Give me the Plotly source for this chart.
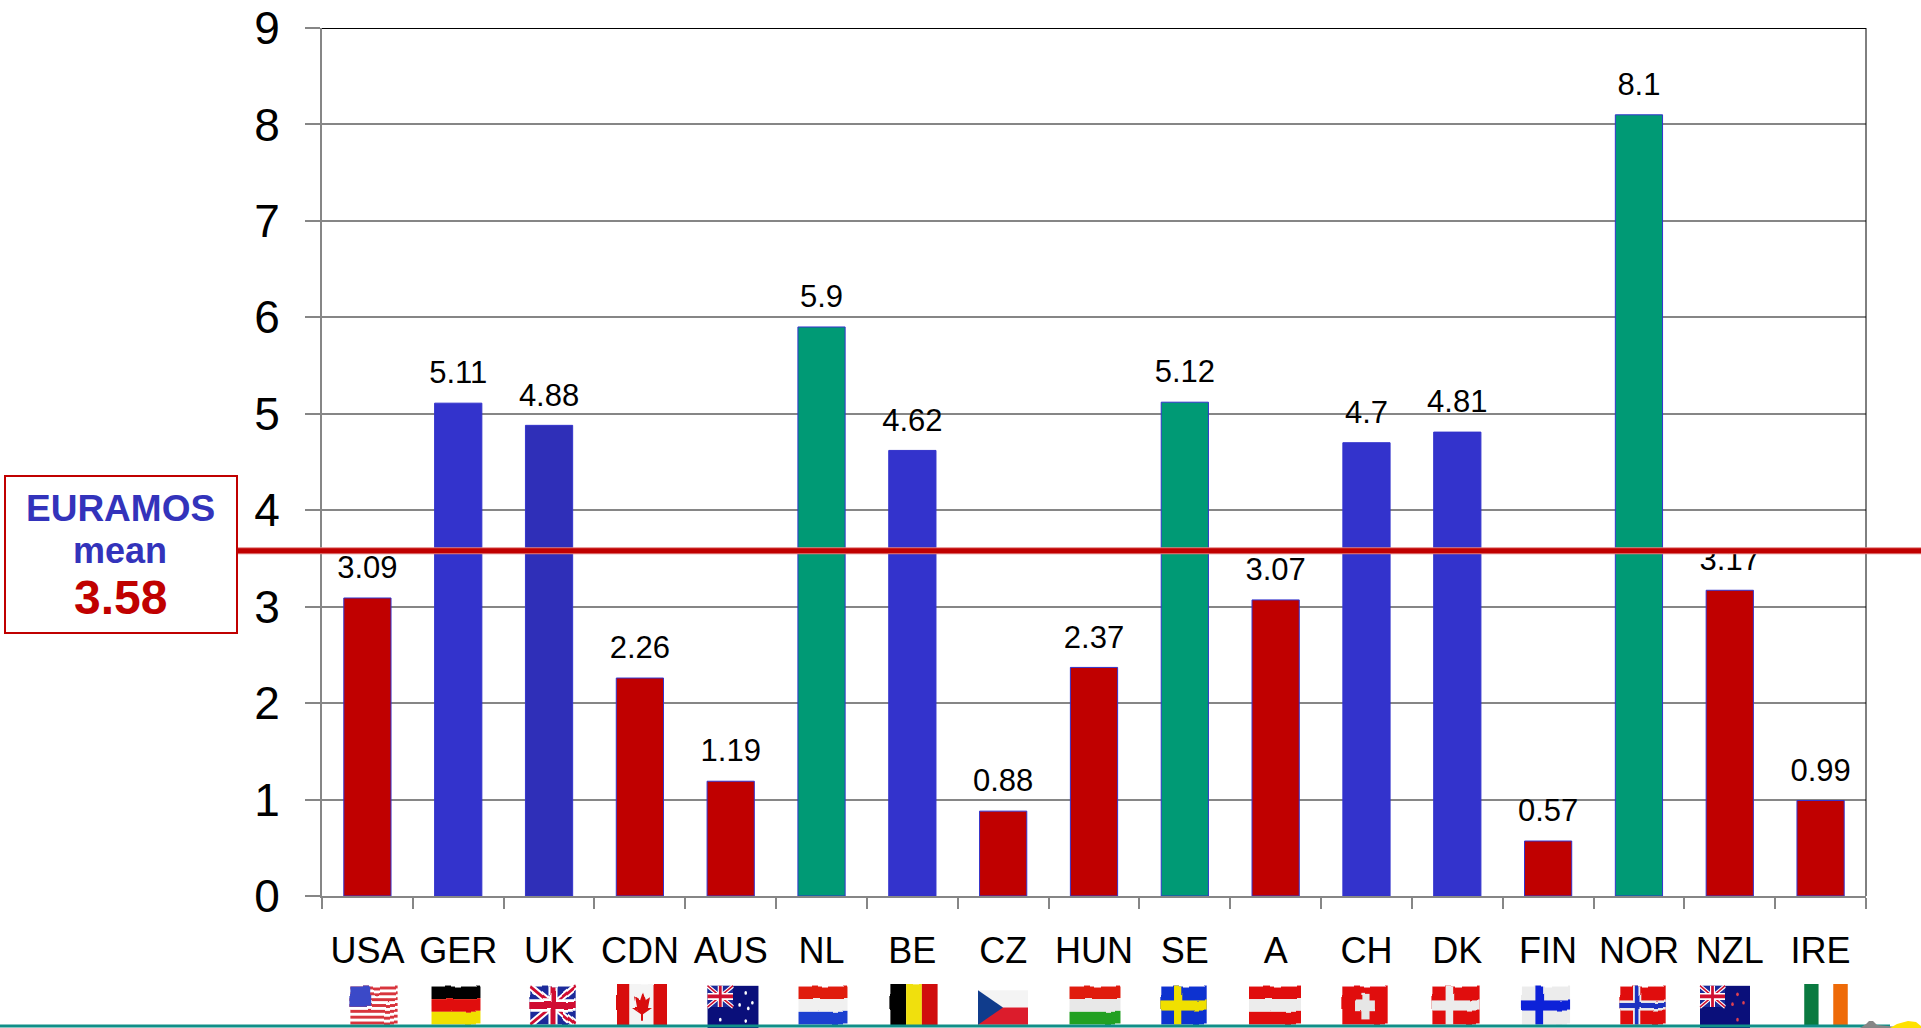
import base64
import plotly.graph_objects as go

countries = ["USA","GER","UK","CDN","AUS","NL","BE","CZ","HUN","SE","A","CH","DK","FIN","NOR","NZL","IRE"]
values = [3.09,5.11,4.88,2.26,1.19,5.9,4.62,0.88,2.37,5.12,3.07,4.7,4.81,0.57,8.1,3.17,0.99]
value_text = ["3.09","5.11","4.88","2.26","1.19","5.9","4.62","0.88","2.37","5.12","3.07","4.7","4.81","0.57","8.1","3.17","0.99"]
RED, BLUE, DBLUE, GREEN = "#c00000", "#3333cc", "#2f2fb8", "#009a75"
bar_colors = [RED,BLUE,DBLUE,RED,RED,GREEN,BLUE,RED,RED,GREEN,RED,BLUE,BLUE,RED,GREEN,RED,RED]
mean_value = 3.58
GRAY = "#868686"

W, H = 1921, 1028
L, R, T, B = 322, 1866, 28, 896
PW, PH = R - L, B - T
def px(x): return (x - L) / PW
def py(y): return (B - y) / PH

flag_centers = [374,456,553,642,733,823,914,1003,1095,1184,1275,1365,1456,1546,1643,1725,1826]
flag_widths = [47,45,45,50,51,45,47,50,47,45,48,45,47,48,45,50,43]

def hstripes(*cols):
    h = 60 / len(cols)
    return "".join(f'<rect x="-5" y="{i*h}" width="110" height="{h}" fill="{c}"/>' for i, c in enumerate(cols))
def vstripes(*cols):
    w = 100 / len(cols)
    return "".join(f'<rect x="{i*w}" y="-5" width="{w}" height="70" fill="{c}"/>' for i, c in enumerate(cols))
def nordic(bg, c, inner=None):
    s = f'<rect width="100" height="60" fill="{bg}"/><rect x="28" width="16" height="60" fill="{c}"/><rect y="22" width="100" height="16" fill="{c}"/>'
    if inner:
        s += f'<rect x="32" width="8" height="60" fill="{inner}"/><rect y="26" width="100" height="8" fill="{inner}"/>'
    return s
def jack(x=50, y=30):
    return (f'<g transform="scale({x/100},{y/60})"><rect width="100" height="60" fill="#1a2a9a"/>'
            '<path d="M0 0L100 60M100 0L0 60" stroke="#fff" stroke-width="12"/>'
            '<path d="M0 0L100 60M100 0L0 60" stroke="#d01030" stroke-width="5"/>'
            '<path d="M50 0V60M0 30H100" stroke="#fff" stroke-width="20"/>'
            '<path d="M50 0V60M0 30H100" stroke="#d01030" stroke-width="11"/></g>')
def stars(points, fill="#fff", r=2.6):
    return "".join(f'<circle cx="{a}" cy="{b}" r="{r}" fill="{fill}"/>' for a, b in points)

us = '<rect width="100" height="60" fill="#fff"/>' + "".join(
    f'<rect y="{i*60/13}" width="100" height="{60/13}" fill="#d8343c"/>' for i in range(0, 13, 2)) + '<rect width="42" height="32" fill="#3a48c8"/>'
ca = vstripes("#d80c10", "#f4f4f4", "#f4f4f4", "#d80c10") + '<path d="M50 8L56 22L66 17L62 34L70 34L52 44V54H48V44L30 34L38 34L34 17L44 22Z" fill="#d80c10"/>'
au = '<rect width="100" height="60" fill="#0a0f7a"/>' + jack() + stars([(25,48),(75,10),(75,50),(63,27),(88,24),(80,32)])
nz = '<rect width="100" height="60" fill="#0a0f7a"/>' + jack() + stars([(75,12),(65,26),(87,24),(75,48)], "#e04050")
cz = '<rect width="100" height="30" fill="#f4f4f4"/><rect y="30" width="100" height="30" fill="#dc1c2c"/><path d="M0 0L50 30L0 60Z" fill="#103c8c"/>'
ch = '<rect width="100" height="60" fill="#e00c10"/><rect x="42" y="10" width="18" height="42" fill="#e6e6e6"/><rect x="28" y="22" width="46" height="17" fill="#e6e6e6"/>'

flag_art = [
    us, hstripes("#000000","#e01008","#f0e000"), jack(100,60), ca, au,
    hstripes("#e01c10","#f0f0f0","#1c40d0"), vstripes("#000000","#f0e010","#d01010"), cz,
    hstripes("#e01c10","#e8e8e8","#20a020"), nordic("#1030d0","#f0e000"),
    hstripes("#e01010","#ececec","#e01010"), ch, nordic("#e01010","#ececec"),
    nordic("#ececec","#1020d8"), nordic("#e01010","#ececec","#1c30c0"), nz,
    vstripes("#0a7a40","#ffffff","#ee6a08"),
]
waved = [True,True,True,True,False,True,True,False,True,True,True,True,True,True,True,False,False]

def uri(art, wave):
    filt = ('<filter id="w" x="-10%" y="-10%" width="120%" height="120%">'
            '<feTurbulence type="fractalNoise" baseFrequency="0.045 0.02" numOctaves="1" seed="4"/>'
            '<feDisplacementMap in="SourceGraphic" scale="7" xChannelSelector="R" yChannelSelector="G"/></filter>')
    g = f'<g filter="url(#w)">{art}</g>' if wave else art
    svg = f'<svg xmlns="http://www.w3.org/2000/svg" viewBox="-4 -4 108 68" width="108" height="68" preserveAspectRatio="none">{filt if wave else ""}{g}</svg>'
    return "data:image/svg+xml;base64," + base64.b64encode(svg.encode()).decode()

images = []
for c, w, art, wv in zip(flag_centers, flag_widths, flag_art, waved):
    top, bot = (984, 1027) if art not in (au, nz, cz) else ((983, 1031) if art != cz else (988, 1027))
    images.append(dict(source=uri(art, wv), xref="paper", yref="paper", x=px(c - w/2 - 2), y=py(top),
                       sizex=(w+4)/PW, sizey=(bot-top)/PH, sizing="stretch", xanchor="left", yanchor="top", layer="above"))

fig = go.Figure()
fig.add_bar(x=countries, y=values, width=0.52, marker=dict(color=bar_colors, line=dict(color="#3333cc", width=1)), hoverinfo="skip")
label_gap = 0.125
fig.add_scatter(x=countries, y=[v + label_gap for v in values], mode="text", text=value_text,
                textposition="top center", textfont=dict(family="Liberation Sans", size=31, color="#000"),
                cliponaxis=False, hoverinfo="skip")

shapes = [
    dict(type="line", xref="paper", yref="y", x0=0, x1=1, y0=9, y1=9, line=dict(color="#000", width=2)),
    dict(type="line", xref="paper", yref="paper", x0=1, x1=1, y0=0, y1=1, line=dict(color="#000", width=1)),
    dict(type="line", xref="paper", yref="y", x0=px(237), x1=px(1921), y0=mean_value, y1=mean_value, line=dict(color="#e08080", width=7)),
    dict(type="line", xref="paper", yref="y", x0=px(237), x1=px(1921), y0=mean_value, y1=mean_value, line=dict(color=RED, width=5)),
    dict(type="line", xref="paper", yref="paper", x0=px(0), x1=px(1890), y0=py(1026), y1=py(1026), line=dict(color="#108f88", width=3)),
    dict(type="rect", xref="paper", yref="paper", x0=px(5), x1=px(237), y0=py(476), y1=py(633), line=dict(color=RED, width=2), fillcolor="#fff"),
    dict(type="path", xref="paper", yref="paper",
         path=f"M {px(1860)} {py(1028)} L {px(1866)} {py(1024)} L {px(1869)} {py(1021)} L {px(1873)} {py(1021)} L {px(1877)} {py(1025)} L {px(1898)} {py(1027)} L {px(1898)} {py(1028)} Z",
         fillcolor=GRAY, line=dict(width=0)),
    dict(type="path", xref="paper", yref="paper",
         path=f"M {px(1890)} {py(1028)} L {px(1897)} {py(1024)} L {px(1908)} {py(1021)} L {px(1916)} {py(1022)} L {px(1921)} {py(1026)} L {px(1921)} {py(1028)} Z",
         fillcolor="#ffe100", line=dict(width=0)),
]
A = dict(xref="paper", yref="paper", x=px(120), showarrow=False, xanchor="center", yanchor="middle")
annotations = [
    dict(A, y=py(508), text="<b>EURAMOS</b>", font=dict(family="Liberation Sans", size=37, color="#3333bb")),
    dict(A, y=py(550), text="<b>mean</b>", font=dict(family="Liberation Sans", size=36, color="#3333bb")),
    dict(A, y=py(597), text="<b>3.58</b>", font=dict(family="Liberation Sans", size=48, color=RED)),
]

fig.update_layout(
    width=W, height=H, autosize=False, margin=dict(l=L, r=W-R, t=T, b=H-B, pad=0),
    plot_bgcolor="#fff", paper_bgcolor="#fff", showlegend=False, bargap=0.48,
    shapes=shapes, annotations=annotations, images=images,
    xaxis=dict(type="category", categoryorder="array", categoryarray=countries, range=[-0.5, 16.5], automargin=False,
               showgrid=False, showline=True, linecolor=GRAY, linewidth=2, ticks="outside", ticklen=11, tickwidth=2,
               tickcolor=GRAY, tickson="boundaries", ticklabelstandoff=22, tickangle=0,
               tickfont=dict(family="Liberation Sans", size=36, color="#000")),
    yaxis=dict(range=[0, 9], tickvals=list(range(10)), showgrid=True, gridcolor=GRAY, gridwidth=1.5, automargin=False,
               showline=True, linecolor=GRAY, linewidth=2, ticks="outside", ticklen=15, tickwidth=2, tickcolor=GRAY,
               ticklabelstandoff=16, zeroline=False, tickfont=dict(family="Liberation Sans", size=46, color="#000")),
)
fig.write_html("out.html", config={"displayModeBar": False},
               post_script="document.body.style.margin='0';document.body.style.overflow='hidden';")
